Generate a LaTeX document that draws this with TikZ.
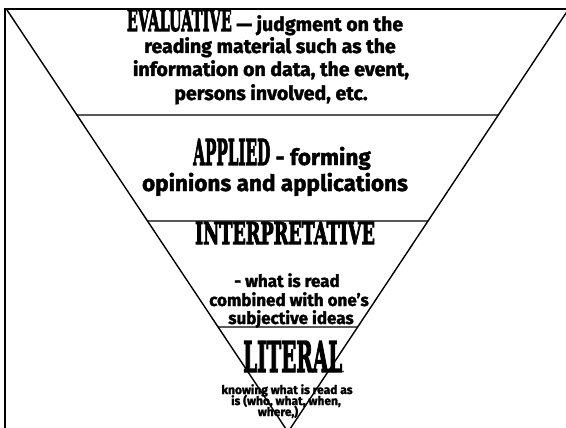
\documentclass[tikz,border=0pt]{standalone}
\usepackage{fontspec}
\usepackage{graphicx}
\setmainfont{Fira Sans}[BoldFeatures={FakeBold=1.8}]
\newfontfamily\headfont{DejaVu Serif}[BoldFeatures={FakeBold=3.5}]
% condensed heavy title word, forced to a given width and cap height
\newcommand{\headword}[3]{\resizebox{#1}{#2}{\headfont\bfseries #3}}
\tikzset{
  frame/.style={line width=2pt},
  edge/.style={line width=1.4pt},
  divider/.style={line width=1.3pt},
  txt/.style={anchor=base, inner sep=0pt, font=\bfseries},
}
\begin{document}
\begin{tikzpicture}[x=1pt, y=-1pt]
  \useasboundingbox (0,0) rectangle (566,428);
  \fill[white] (0,0) rectangle (566,428);
  \clip (0,0) rectangle (566,428);

  % outer frame (top and left edges)
  \draw[frame] (5,440) -- (5,9) -- (580,9);

  % inverted pyramid
  \coordinate (tl) at (7,10);
  \coordinate (tr) at (568,10);
  \coordinate (apex) at (288,432);
  \draw[edge] (tl) -- (apex) -- (tr);

  % level dividers
  \foreach \y in {115, 221, 327} {
    \draw[divider] (intersection of tl--apex and 0,\y--1,\y)
                -- (intersection of tr--apex and 0,\y--1,\y);
  }

  % evaluative level
  \node[txt, font=\bfseries\fontsize{19.5}{23}\selectfont] (ev1) at (265,31)
    {\headword{105pt}{22pt}{EVALUATIVE} — judgment on the};
  \node[txt, font=\bfseries\fontsize{19.5}{23}\selectfont] (ev2) at (270,53)
    {reading material such as the};
  \node[txt, font=\bfseries\fontsize{19.5}{23}\selectfont] (ev3) at (271,76)
    {information on data, the event,};
  \node[txt, font=\bfseries\fontsize{19.5}{23}\selectfont] (ev4) at (271,100)
    {persons involved, etc.};

  % applied level
  \node[txt, font=\bfseries\fontsize{22.5}{25}\selectfont] (ap1) at (282,165)
    {\headword{77pt}{26pt}{APPLIED} - forming};
  \node[txt, font=\bfseries\fontsize{22.5}{25}\selectfont] (ap2) at (275,191)
    {opinions and applications};

  % interpretative level
  \node[txt] (in1) at (285,244) {\headword{180pt}{22pt}{INTERPRETATIVE}};
  \node[txt, font=\bfseries\fontsize{17}{19}\selectfont] (in2) at (287,287)
    {- what is read};
  \node[txt, font=\bfseries\fontsize{17}{19}\selectfont] (in3) at (289,306)
    {combined with one’s};
  \node[txt, font=\bfseries\fontsize{17}{19}\selectfont] (in4) at (291,324)
    {subjective ideas};

  % literal level
  \node[txt, anchor=base west] (li1) at (243,372)
    {\headword{99pt}{31pt}{LITERAL}{\fontsize{7}{7}\selectfont.}};
  \node[txt, font=\bfseries\fontsize{12}{12}\selectfont] (li2) at (287,394)
    {knowing what is read as};
  \node[txt, font=\bfseries\fontsize{12}{12}\selectfont] (li3) at (286,405)
    {is (who, what, when,};
  \node[txt, font=\bfseries\fontsize{12}{12}\selectfont] (li4) at (278,416)
    {where,)};
\end{tikzpicture}
\end{document}
